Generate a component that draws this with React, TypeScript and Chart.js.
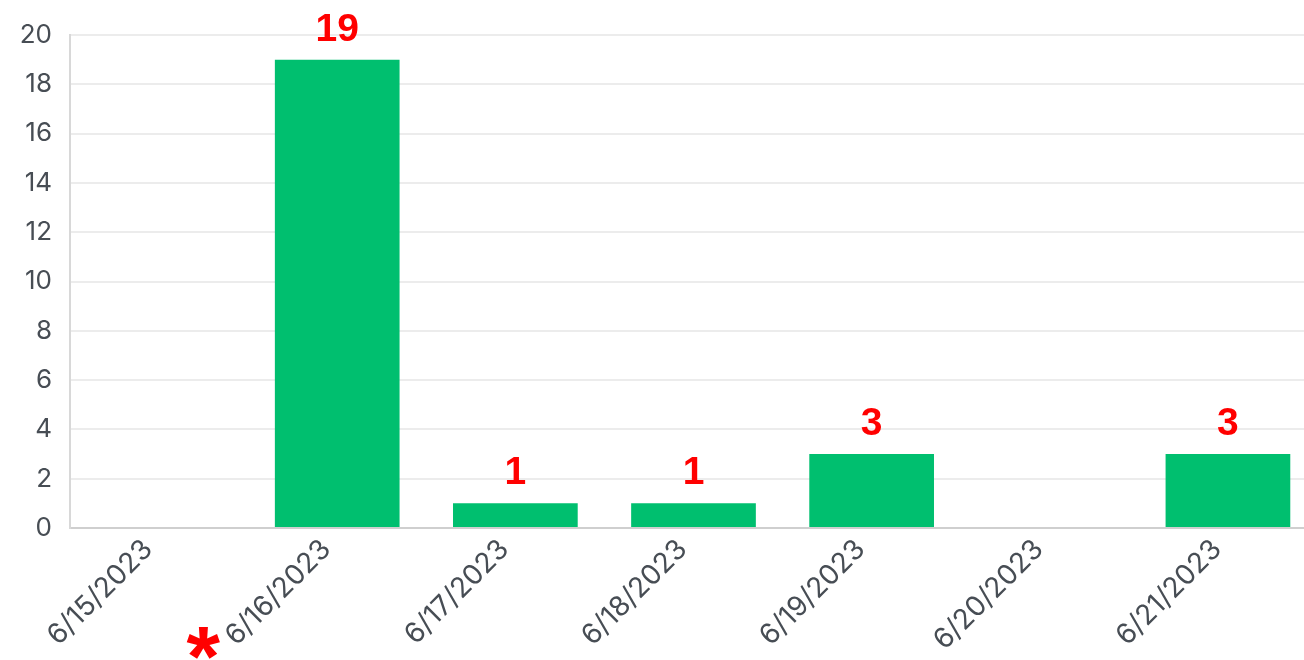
import React, { useEffect, useRef } from "react";
import { Chart, registerables } from "chart.js";

Chart.register(...registerables);

const categories = ["6/15/2023", "6/16/2023", "6/17/2023", "6/18/2023", "6/19/2023", "6/20/2023", "6/21/2023"];
const counts = [0, 19, 1, 1, 3, 0, 3];
const yTicks = [0, 2, 4, 6, 8, 10, 12, 14, 16, 18, 20];
const markerText = "*";

const valueLabels = {
  id: "valueLabels",
  afterDatasetsDraw(chart: any) {
    const ctx = chart.ctx;
    const meta = chart.getDatasetMeta(0);
    ctx.save();
    ctx.fillStyle = "#ff0000";
    ctx.font = "bold 39px 'Liberation Sans', Arial, sans-serif";
    ctx.textAlign = "center";
    ctx.textBaseline = "alphabetic";
    meta.data.forEach((bar: any, i: number) => {
      const v = counts[i];
      if (!v) return;
      ctx.fillText(String(v), bar.x, bar.y - 19);
    });
    // red asterisk marker next to second category label
    const xs = chart.scales.x;
    const x = xs.getPixelForValue(1) - 134;
    ctx.font = "bold 86px 'Liberation Sans', Arial, sans-serif";
    ctx.fillText(markerText, x, 686);
    ctx.restore();
  },
};

export default function App() {
  const ref = useRef<HTMLCanvasElement | null>(null);
  useEffect(() => {
    if (!ref.current) return;
    const chart = new Chart(ref.current, {
      type: "bar",
      data: {
        labels: categories,
        datasets: [
          {
            data: counts,
            backgroundColor: "#00bf6f",
            borderWidth: 0,
            barPercentage: 0.7,
            categoryPercentage: 1,
          },
        ],
      },
      options: {
        animation: false,
        responsive: false,
        maintainAspectRatio: false,
        layout: { padding: { top: 35, right: 3, left: 0, bottom: 0 } },
        plugins: { legend: { display: false }, tooltip: { enabled: false } },
        scales: {
          x: {
            grid: { display: false, drawTicks: false },
            border: { color: "#cfcfcf", width: 2 },
            ticks: {
              color: "#474d54",
              font: { family: "Inter, 'Noto Sans', sans-serif", size: 28 },
              minRotation: 45,
              maxRotation: 45,
              padding: 5,
              labelOffset: -11,
              autoSkip: false,
            },
            afterFit: (s: any) => {
              s.height = 132;
            },
          },
          y: {
            min: 0,
            max: 20,
            afterBuildTicks: (s: any) => {
              s.ticks = yTicks.map((v) => ({ value: v }));
            },
            grid: { color: "#ececec", lineWidth: 2, drawTicks: false },
            border: { color: "#d8d8d8", width: 2 },
            ticks: {
              color: "#474d54",
              font: { family: "Inter, 'Noto Sans', sans-serif", size: 26 },
              padding: 18,
            },
            afterFit: (s: any) => {
              s.width = 70;
            },
          },
        },
      },
      plugins: [valueLabels],
    });
    return () => chart.destroy();
  }, []);
  return (
    <div style={{ position: "fixed", left: 0, top: 0, width: 1320, height: 660, overflow: "hidden", background: "#fff" }}>
      <canvas ref={ref} width={1320} height={660} style={{ display: "block" }} />
    </div>
  );
}
